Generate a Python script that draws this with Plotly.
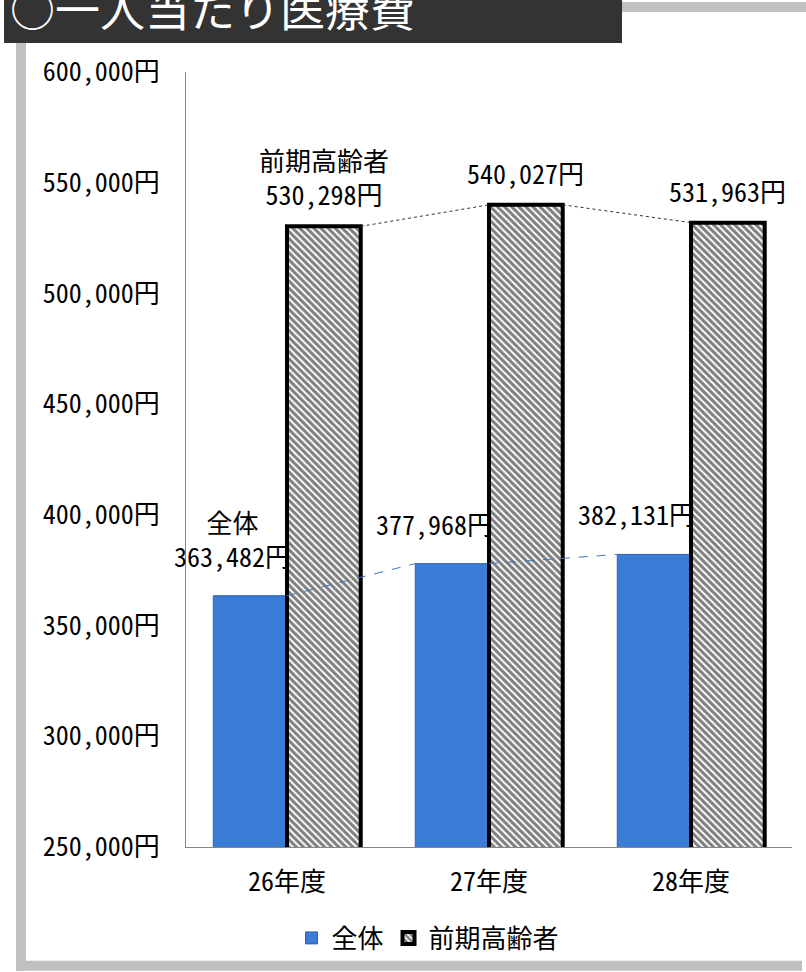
import plotly.graph_objects as go

# ---------------- data ----------------
categories = ["26年度", "27年度", "28年度"]
series_names = ["全体", "前期高齢者"]
total_values = [363482, 377968, 382131]
elderly_values = [530298, 540027, 531963]
y_tick_values = [250000, 300000, 350000, 400000, 450000, 500000, 550000, 600000]
y_tick_labels = [f"{v:,}円" for v in y_tick_values]
title_text = "○一人当たり医療費"

# ---------------- layout constants ----------------
W, H = 806, 972
ML, MR, MT, MB = 186, 14, 72, 124
PW, PH = W - ML - MR, H - MT - MB


def px(x):
    return (x - ML) / PW


def py(y):
    return (H - MB - y) / PH


BARGAP = 0.27
BAR_W = (1 - BARGAP) / 2
xs = list(range(len(categories)))

FONT = "Noto Sans Mono CJK JP, Noto Sans CJK JP, sans-serif"
FS = 26

fig = go.Figure()

fig.add_bar(
    x=xs, y=total_values, name=series_names[0],
    marker=dict(color="#3b7dd6", line=dict(color="#2d62b0", width=1)),
)
fig.add_bar(
    x=xs, y=elderly_values, name=series_names[1],
    marker=dict(
        color="white",
        line=dict(color="black", width=4),
        pattern=dict(shape="\\", fgcolor="black", bgcolor="white", size=5, solidity=0.6),
    ),
)

# series lines connecting bar tops
bx, by, ex, ey = [], [], [], []
for i in range(len(xs) - 1):
    bx += [xs[i], xs[i + 1] - BAR_W, None]
    by += [total_values[i], total_values[i + 1], None]
    ex += [xs[i] + BAR_W, xs[i + 1], None]
    ey += [elderly_values[i], elderly_values[i + 1], None]

fig.add_scatter(x=bx, y=by, mode="lines", showlegend=False, hoverinfo="skip",
                line=dict(color="#3f74c4", width=1, dash="dash"))
fig.add_scatter(x=ex, y=ey, mode="lines", showlegend=False, hoverinfo="skip",
                line=dict(color="#333333", width=1, dash="dot"))

annotations = []
for i, v in enumerate(total_values):
    txt = f"{v:,}円"
    if i == 0:
        txt = series_names[0] + "<br>" + txt
    annotations.append(dict(
        x=xs[i] - BAR_W / 2, y=v, xref="x", yref="y", text=txt, showarrow=False,
        xanchor="center", yanchor="bottom", xshift=-18, yshift=20,
        font=dict(family=FONT, size=FS, color="black"),
    ))
for i, v in enumerate(elderly_values):
    txt = f"{v:,}円"
    if i == 0:
        txt = series_names[1] + "<br>" + txt
    annotations.append(dict(
        x=xs[i] + BAR_W / 2, y=v, xref="x", yref="y", text=txt, showarrow=False,
        xanchor="center", yanchor="bottom", xshift=0, yshift=12,
        font=dict(family=FONT, size=FS, color="black"),
    ))

# title (top edge cropped as in the reference)
annotations.append(dict(
    x=px(8), y=py(7), xref="paper", yref="paper", text=title_text, showarrow=False,
    xanchor="left", yanchor="middle",
    font=dict(family="Noto Sans CJK JP, sans-serif", size=45, color="white"),
))

GRAY = "#c0c0c0"
shapes = [
    dict(type="rect", xref="paper", yref="paper", x0=px(16), x1=px(26), y0=py(43), y1=py(972),
         fillcolor=GRAY, line=dict(width=0)),
    dict(type="rect", xref="paper", yref="paper", x0=px(16), x1=px(802), y0=py(962), y1=py(972),
         fillcolor=GRAY, line=dict(width=0)),
    dict(type="rect", xref="paper", yref="paper", x0=px(622), x1=px(806), y0=py(2), y1=py(12),
         fillcolor=GRAY, line=dict(width=0)),
    dict(type="rect", xref="paper", yref="paper", x0=px(4), x1=px(622), y0=py(0), y1=py(43),
         fillcolor="#333333", line=dict(width=0)),
]

fig.update_layout(
    width=W, height=H,
    margin=dict(l=ML, r=MR, t=MT, b=MB, pad=0),
    paper_bgcolor="white", plot_bgcolor="white",
    barmode="group", bargap=BARGAP, bargroupgap=0,
    font=dict(family=FONT, size=FS, color="black"),
    showlegend=True,
    legend=dict(orientation="h", x=px(428), xanchor="center", y=py(938), yanchor="middle",
                font=dict(family=FONT, size=FS, color="black"), bgcolor="rgba(0,0,0,0)"),
    annotations=annotations,
    shapes=shapes,
    xaxis=dict(range=[-0.5, 2.5], tickmode="array", tickvals=xs, ticktext=categories,
               showline=True, linecolor="#868686", linewidth=1, showgrid=False,
               zeroline=False, ticks="", ticklabelstandoff=12, fixedrange=True),
    yaxis=dict(range=[250000, 600000], tickmode="array", tickvals=y_tick_values,
               ticktext=y_tick_labels, showline=True, linecolor="#868686", linewidth=1,
               showgrid=False, zeroline=False, ticks="", ticklabelstandoff=20,
               fixedrange=True),
)

fig.write_html(
    "out.html",
    config={"displayModeBar": False},
    post_script="document.body.style.margin='0';document.body.style.overflow='hidden';",
)
